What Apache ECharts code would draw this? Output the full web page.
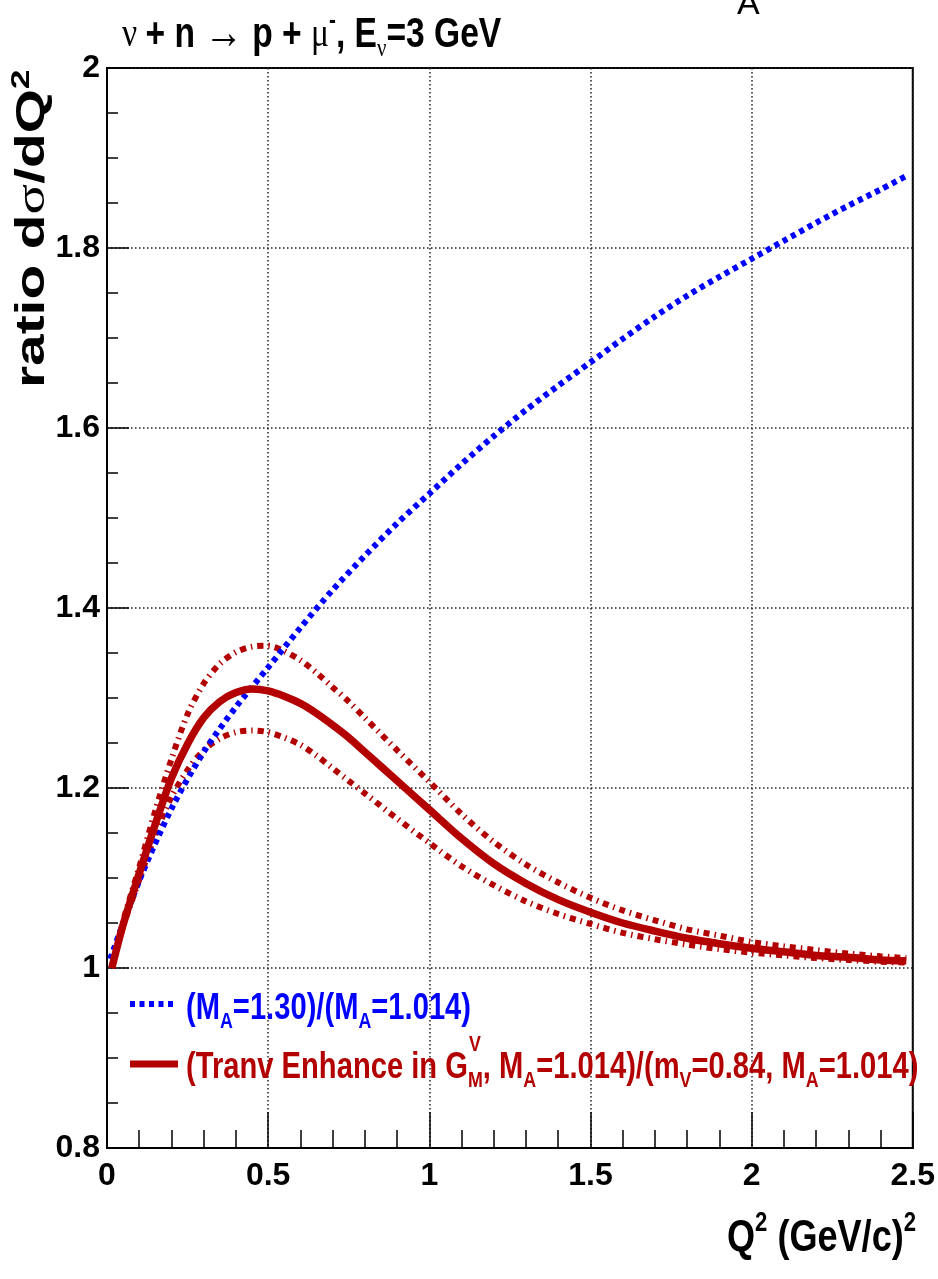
<!DOCTYPE html>
<html>
<head>
<meta charset="utf-8">
<script src="https://cdn.jsdelivr.net/npm/echarts@6/dist/echarts.min.js"></script>
<style>
html,body{margin:0;padding:0;background:#fff}
#chart{width:938px;height:1279px}
</style>
</head>
<body>
<div id="chart"></div>
<script>
// Q^2 samples (GeV/c)^2 and cross-section ratios
const blueQ2 = [0.01, 0.1, 0.2, 0.3, 0.4, 0.5, 0.6, 0.7, 0.8, 0.9, 1.0, 1.1, 1.2, 1.3, 1.4, 1.5, 1.6, 1.7, 1.8, 1.9, 2.0, 2.1, 2.2, 2.3, 2.4, 2.48];
const blueRatio = [1.01, 1.097, 1.177, 1.24, 1.29, 1.334, 1.378, 1.42, 1.458, 1.494, 1.527, 1.56, 1.591, 1.62, 1.647, 1.673, 1.699, 1.724, 1.747, 1.768, 1.788, 1.808, 1.828, 1.847, 1.865, 1.88];

const redQ2 = [0.015, 0.05, 0.1, 0.15, 0.2, 0.25, 0.3, 0.35, 0.4, 0.45, 0.5, 0.55, 0.6, 0.65, 0.7, 0.75, 0.8, 0.9, 1.0, 1.1, 1.2, 1.3, 1.4, 1.5, 1.6, 1.7, 1.8, 1.9, 2.0, 2.1, 2.2, 2.3, 2.4, 2.48];
const redCentral = [1.0, 1.048, 1.105, 1.16, 1.211, 1.249, 1.278, 1.296, 1.306, 1.31, 1.308, 1.302, 1.294, 1.283, 1.27, 1.256, 1.24, 1.208, 1.176, 1.144, 1.116, 1.094, 1.076, 1.062, 1.05, 1.041, 1.033, 1.027, 1.022, 1.018, 1.014, 1.012, 1.009, 1.008];
const redUpper = [1.0, 1.052, 1.112, 1.175, 1.232, 1.282, 1.316, 1.338, 1.351, 1.357, 1.358, 1.352, 1.342, 1.328, 1.312, 1.296, 1.278, 1.242, 1.207, 1.171, 1.14, 1.115, 1.095, 1.078, 1.064, 1.053, 1.043, 1.036, 1.029, 1.024, 1.02, 1.016, 1.013, 1.011];
const redLower = [1.0, 1.046, 1.098, 1.148, 1.19, 1.22, 1.242, 1.255, 1.262, 1.264, 1.262, 1.256, 1.248, 1.236, 1.222, 1.208, 1.194, 1.166, 1.139, 1.113, 1.092, 1.074, 1.06, 1.049, 1.039, 1.032, 1.026, 1.021, 1.017, 1.014, 1.011, 1.009, 1.007, 1.006];

const xTicks = ['0', '0.5', '1', '1.5', '2', '2.5'];
const yTicks = ['0.8', '1', '1.2', '1.4', '1.6', '1.8', '2'];

const BLUE = '#0000ff';
const RED = '#b30000';
const SANS = "'Liberation Sans', Arial, sans-serif";
const SYMB = "'Liberation Serif', 'DejaVu Serif', serif";

const pairs = (xs, ys) => xs.map((x, i) => [x, ys[i]]);
const fmt = (list) => (v) => {
  const s = String(Math.round(v * 10) / 10);
  return list.includes(s) ? s : '';
};

function measure(text, font) {
  const c = document.createElement('canvas').getContext('2d');
  c.font = font;
  return c.measureText(text).width;
}

// rich-text styles: normal, subscript, superscript, symbol glyphs
const richBase = (color, size) => {
  const small = Math.round(size * 0.62);
  return {
    n: { fontFamily: SANS, fontWeight: 'bold', fontSize: size, fill: color, lineHeight: size * 1.3, verticalAlign: 'middle' },
    sub: { fontFamily: SANS, fontWeight: 'bold', fontSize: small, fill: color, lineHeight: small, verticalAlign: 'bottom' },
    sup: { fontFamily: SANS, fontWeight: 'bold', fontSize: small, fill: color, lineHeight: small, verticalAlign: 'top' },
    s: { fontFamily: SYMB, fontWeight: 'normal', fontSize: size, fill: color, lineHeight: size * 1.3, verticalAlign: 'middle' },
    arr: { fontFamily: SYMB, fontWeight: 'normal', fontSize: Math.round(size * 1.15), fill: color, lineHeight: size * 1.3, verticalAlign: 'middle' },
    ssub: { fontFamily: SYMB, fontWeight: 'normal', fontSize: small, fill: color, lineHeight: small, verticalAlign: 'bottom' }
  };
};

const legFont = 36;
const legScale = 0.81;
const legX = 186;
const vOffset = measure('(Tranv Enhance in G', 'bold ' + legFont + 'px ' + SANS) * legScale;

const chart = echarts.init(document.getElementById('chart'), null, { renderer: 'canvas' });

const dashDot = [6, 5, 1.5, 5];

const option = {
  backgroundColor: '#ffffff',
  animation: false,
  grid: { left: 107, right: 23, top: 68, bottom: 131, show: true, borderColor: '#000', borderWidth: 2, backgroundColor: 'transparent' },
  xAxis: {
    type: 'value', min: 0, max: 2.5, interval: 0.5,
    axisLine: { show: true, onZero: false, lineStyle: { color: '#000', width: 2 } },
    axisTick: { show: true, inside: true, length: 36, lineStyle: { color: '#000', width: 1.5 } },
    minorTick: { show: true, splitNumber: 5, length: 18, lineStyle: { color: '#000', width: 1.5 } },
    splitLine: { show: true, lineStyle: { color: '#222', width: 1.5, type: [1.5, 2.5] } },
    axisLabel: { formatter: fmt(xTicks), fontFamily: SANS, fontWeight: 'bold', fontSize: 32, color: '#000', margin: 12, showMaxLabel: true, showMinLabel: true }
  },
  yAxis: {
    type: 'value', min: 0.8, max: 2, interval: 0.2,
    axisLine: { show: true, onZero: false, lineStyle: { color: '#000', width: 2 } },
    axisTick: { show: true, inside: true, length: 22, lineStyle: { color: '#000', width: 1.5 } },
    minorTick: { show: true, splitNumber: 4, length: 11, lineStyle: { color: '#000', width: 1.5 } },
    splitLine: { show: true, lineStyle: { color: '#222', width: 1.5, type: [1.5, 2.5] } },
    axisLabel: { formatter: fmt(yTicks), fontFamily: SANS, fontWeight: 'bold', fontSize: 32, color: '#000', margin: 7 }
  },
  series: [
    {
      name: 'upper', type: 'line', data: pairs(redQ2, redUpper), showSymbol: false, smooth: 0.3, z: 3,
      lineStyle: { color: RED, width: 6, type: dashDot, cap: 'butt' }
    },
    {
      name: 'lower', type: 'line', data: pairs(redQ2, redLower), showSymbol: false, smooth: 0.3, z: 3,
      lineStyle: { color: RED, width: 6, type: dashDot, cap: 'butt' }
    },
    {
      name: 'MA130', type: 'line', data: pairs(blueQ2, blueRatio), showSymbol: false, smooth: 0.3, z: 4,
      lineStyle: { color: BLUE, width: 6, type: [5, 4.5], cap: 'butt' }
    },
    {
      name: 'central', type: 'line', data: pairs(redQ2, redCentral), showSymbol: false, smooth: 0.3, z: 5,
      lineStyle: { color: RED, width: 7.5 }
    }
  ],
  graphic: [
    // title
    {
      type: 'text', x: 122, y: 8, scaleX: 0.8, z: 10,
      style: {
        text: '{s|\u03bd }{n|+ n }{arr|\u2192}{n| p + }{s|\u03bc}{sup|-}{n|, E}{ssub|\u03bd}{n|=3 GeV}',
        rich: richBase('#000', 42)
      }
    },
    // label clipped at the top edge
    {
      type: 'text', x: 737, y: -12, z: 10,
      style: { text: 'A', font: 'normal 34px ' + SANS, fill: '#000' }
    },
    // y-axis title, reading bottom to top
    {
      type: 'text', x: 10, y: 388, rotation: Math.PI / 2, scaleX: 1.42, z: 10,
      style: {
        text: '{n|ratio d}{s|\u03c3}{n|/dQ}{sup|2}',
        rich: {
          n: { fontFamily: SANS, fontWeight: 'bold', fontSize: 40, fill: '#000', lineHeight: 46, verticalAlign: 'middle' },
          s: { fontFamily: SYMB, fontWeight: 'normal', fontSize: 40, fill: '#000', lineHeight: 46, verticalAlign: 'middle' },
          sup: { fontFamily: SANS, fontWeight: 'bold', fontSize: 25, fill: '#000', lineHeight: 25, verticalAlign: 'top' }
        }
      }
    },
    // x-axis title
    {
      type: 'text', x: 727, y: 1210, scaleX: 0.82, z: 10,
      style: {
        text: '{n|Q}{sup|2}{n| (GeV/c)}{sup|2}',
        rich: richBase('#000', 44)
      }
    },
    // legend entries
    {
      type: 'line', z: 10,
      shape: { x1: 130, y1: 1004, x2: 176, y2: 1004 },
      style: { stroke: BLUE, lineWidth: 6, lineDash: [5, 4.5] }
    },
    {
      type: 'text', x: legX, y: 986, scaleX: legScale, z: 10,
      style: { text: '{n|(M}{sub|A}{n|=1.30)/(M}{sub|A}{n|=1.014)}', rich: richBase(BLUE, legFont) }
    },
    {
      type: 'line', z: 10,
      shape: { x1: 130, y1: 1064, x2: 178, y2: 1064 },
      style: { stroke: RED, lineWidth: 7 }
    },
    {
      type: 'text', x: legX, y: 1045, scaleX: legScale, z: 10,
      style: {
        text: '{n|(Tranv Enhance in G}{sub|M}{n|, M}{sub|A}{n|=1.014)/(m}{sub|V}{n|=0.84, M}{sub|A}{n|=1.014)}',
        rich: richBase(RED, legFont)
      }
    },
    {
      type: 'text', x: legX + vOffset + 1, y: 1034, scaleX: legScale, z: 10,
      style: { text: 'V', font: 'bold 22px ' + SANS, fill: RED }
    }
  ]
};

chart.setOption(option);
</script>
</body>
</html>
